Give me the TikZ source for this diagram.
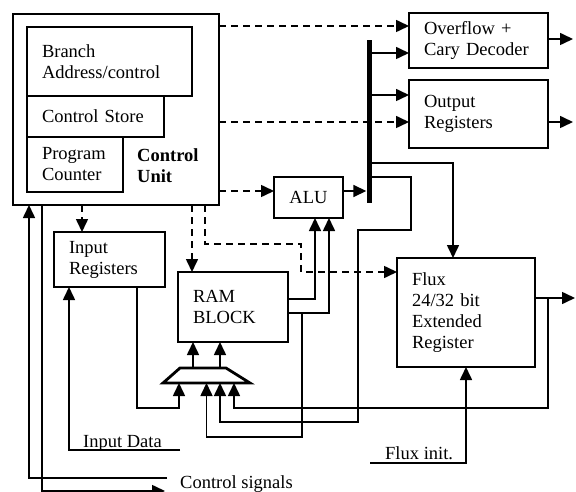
\documentclass[tikz,border=0pt]{standalone}
\usepackage{fontspec}
\setmainfont{Liberation Serif}
\usetikzlibrary{arrows.meta}
\begin{document}
\begin{tikzpicture}[x=1pt,y=-1pt,
    font=\fontsize{18.5}{21}\selectfont,
    blk/.style={draw,line width=1.8pt,anchor=north west,align=left,inner xsep=15pt,inner ysep=0pt,outer sep=0pt},
    lbl/.style={inner sep=0pt,align=left},
    ln/.style={line width=1.6pt},
    arr/.style={ln,-{Triangle[length=13pt,width=12pt]}},
    dsh/.style={dash pattern=on 7pt off 5pt}]
    \useasboundingbox (0,0) rectangle (576,492);
    \node[blk,text width=176pt,minimum height=191pt] (cu) at (13,14) {};
    \node[blk,text width=135pt,minimum height=69pt] (br) at (27,27) {Branch\\Address/control};
    \node[blk,text width=107pt,minimum height=41pt] (cs) at (27,96) {Control Store};
    \node[blk,text width=66pt,minimum height=55pt] (pc) at (27,137) {Program\\Counter};
    \node[lbl,anchor=west,font=\fontsize{18.5}{21}\selectfont\bfseries] (cul) at (137,166) {Control\\Unit};
    \node[blk,text width=109pt,minimum height=55pt] (ovf) at (409,13) {Overflow +\\Cary Decoder};
    \node[blk,text width=109pt,minimum height=68pt] (out) at (409,80) {Output\\Registers};
    \node[blk,align=center,inner xsep=0pt,text width=69pt,minimum height=41pt] (alu) at (274,177) {ALU};
    \node[fill,minimum width=5pt,minimum height=163pt,inner sep=0pt,anchor=north] (bus) at (369,40) {};
    \node[blk,text width=81pt,minimum height=55pt] (inr) at (54,232) {Input\\Registers};
    \node[blk,text width=80pt,minimum height=70pt] (ram) at (178,272) {RAM\\BLOCK};
    \node[blk,text width=108pt,minimum height=109pt] (flx) at (397,258) {Flux\\24/32 bit\\Extended\\Register};
    \coordinate (muxs) at (206.5,383);
    \coordinate (muxn) at (206.5,368);
    \draw[line width=2.8pt,line join=miter] ([xshift=-43.5pt]muxs) -- ([xshift=-26.5pt]muxn)
        -- ([xshift=19.5pt]muxn) -- ([xshift=43.5pt]muxs) -- cycle;
    \coordinate (j1) at (302,313);
    \coordinate (j2) at (548,298);
    \coordinate (idn) at (180,450);
    \coordinate (fin) at (370,463);
    \coordinate (csi) at (167,478);
    \coordinate (cso) at (165,491);

    \draw[arr,dsh] (cu.east |- 0,26) -- (ovf.west |- 0,26);
    \draw[arr,dsh] (cu.east |- 0,122) -- (out.west |- 0,122);
    \draw[arr,dsh] (cu.east |- 0,191) -- (alu.west |- 0,191);
    \draw[arr,dsh] (cu.south -| 82,0) -- (inr.north -| 82,0);
    \draw[arr,dsh] (cu.south -| 192,0) -- (ram.north -| 192,0);
    \draw[arr,dsh] (cu.south -| 205,0) |- (301,244) |- (flx.west |- 0,272);

    \draw[arr] (alu.east |- 0,191) -- (bus.west |- 0,191);
    \draw[arr] (bus.east |- 0,53) -- (ovf.west |- 0,53);
    \draw[arr] (bus.east |- 0,95) -- (out.west |- 0,95);
    \draw[arr] (ovf.east |- 0,39) -- ++(25,0);
    \draw[arr] (out.east |- 0,122) -- ++(25,0);
    \draw[arr] (bus.east |- 0,163) -| (flx.north -| 453,0);
    \draw[arr] (bus.east |- 0,177) -| (411,230) -| (358,422) -| ([xshift=13.5pt]muxs);
    \draw[arr] (ram.east |- 0,299) -| ([xshift=6.5pt]alu.south);
    \draw[arr] (ram.east |- 0,313) -| ([xshift=20.5pt]alu.south);
    \draw[arr] (j1) |- ([yshift=-54pt]muxs) -- (muxs);
    \draw[arr] (flx.east |- 0,298) -- ++(40,0);
    \draw[arr] (j2) |- ([xshift=27.5pt,yshift=-25pt]muxs) -- ([xshift=27.5pt]muxs);
    \draw[arr] (inr.south -| 137,0) |- ([xshift=-27.5pt,yshift=-25pt]muxs) -- ([xshift=-27.5pt]muxs);
    \draw[arr] ([xshift=-13.5pt]muxn) -- ([xshift=-13.5pt]muxn |- ram.south);
    \draw[arr] ([xshift=13.5pt]muxn) -- ([xshift=13.5pt]muxn |- ram.south);

    \draw[arr] (idn) -| (inr.south -| 69,0);
    \node[lbl,anchor=base west] (idl) at (83,447) {Input Data};
    \draw[arr] (fin) -| (flx.south -| 466,0);
    \node[lbl,anchor=base west] (fil) at (385,459) {Flux init.};
    \draw[arr] (csi) -| (cu.south -| 29,0);
    \draw[arr] (cu.south -| 42,0) |- (cso);
    \node[lbl,anchor=base west] (csl) at (180,488) {Control signals};
\end{tikzpicture}
\end{document}
